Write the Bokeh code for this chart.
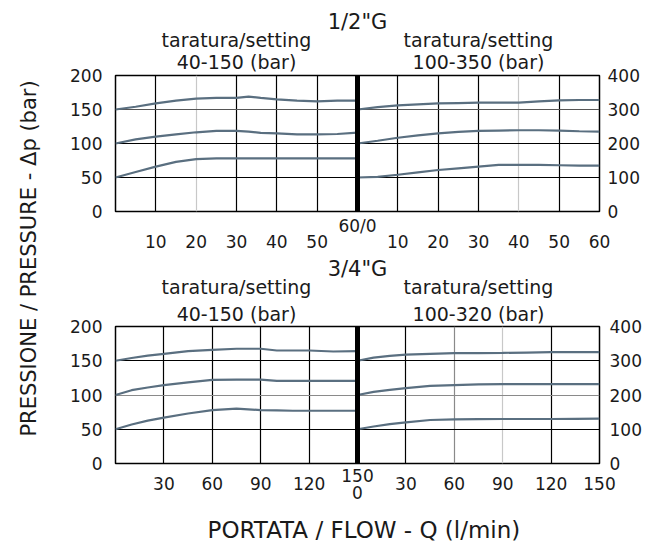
from math import pi
from bokeh.plotting import figure
from bokeh.models import Range1d, LinearAxis, FixedTicker, Grid, Span, Label, Title
from bokeh.layouts import row, column
from bokeh.embed import file_html
from bokeh.resources import INLINE

FONT = "DejaVu Sans"
CURVE = "#5a6f80"
INK = "#1a1a1a"

# ---------------- data: 1/2"G ----------------
g12_left_q = [0, 5, 10, 15, 20, 25, 30, 33, 36, 40, 45, 50, 55, 60]
g12_left_hi = [150, 154, 159, 163, 166, 167, 167, 169, 167, 165, 163, 162, 163, 163]
g12_left_mid = [100, 106, 110, 113.5, 116.5, 118.5, 118.5, 117.5, 115.5, 115, 113.5, 113.5, 114, 116]
g12_left_lo = [50, 58, 66, 73, 77, 78, 78, 78, 78, 78, 78, 78, 78, 78]

g12_right_q = [0, 5, 10, 15, 20, 25, 30, 35, 40, 45, 50, 55, 60]
g12_right_hi = [300, 307, 312, 315, 318, 319, 320, 320, 320, 324, 327, 328, 328]
g12_right_mid = [200, 208, 217, 224, 230, 234, 237, 238, 239, 239, 238, 236, 235]
g12_right_lo = [100, 102, 108, 115, 122, 127, 132, 137, 137, 137, 136, 135, 135]

# ---------------- data: 3/4"G ----------------
g34_left_q = [0, 10, 20, 30, 45, 60, 75, 90, 100, 110, 120, 135, 150]
g34_left_hi = [150, 154, 157.5, 160, 164, 166, 167.5, 167.5, 165, 165, 165, 163.5, 164]
g34_left_mid = [100, 107, 111, 114.5, 118.5, 122, 122.5, 122.5, 120.5, 120.5, 120.5, 120.5, 120.5]
g34_left_lo = [50, 57, 62.5, 67, 73, 78, 80, 78, 77.5, 77, 77, 77, 77]

g34_right_q = [0, 10, 20, 30, 45, 60, 75, 90, 105, 120, 135, 150]
g34_right_hi = [300, 309, 314, 318, 320, 322, 322.5, 323, 324, 325, 325, 325]
g34_right_mid = [200, 209, 215, 220, 226.5, 229, 231, 232, 232, 232, 232, 232]
g34_right_lo = [100, 108, 115, 120, 127, 129, 129.5, 130, 130, 130, 130.5, 131]

# tick labels
g12_left_ticks = [10, 20, 30, 40, 50]
g12_right_ticks = [10, 20, 30, 40, 50, 60]
g12_joint_label = "60/0"
g34_left_ticks = [30, 60, 90, 120]
g34_right_ticks = [30, 60, 90, 120, 150]
g34_joint_label = "150\n0"
left_p_ticks = [0, 50, 100, 150, 200]
right_p_ticks = [0, 100, 200, 300, 400]

sizes = ['1/2"G', '3/4"G']
setting_word = "taratura/setting"
settings_left = ["40-150 (bar)", "40-150 (bar)"]
settings_right = ["100-350 (bar)", "100-320 (bar)"]
x_title = "PORTATA / FLOW - Q (l/min)"
y_title = "PRESSIONE / PRESSURE - \u0394p (bar)"


def style_axis(ax, standoff, size="17px"):
    ax.axis_line_color = None
    ax.major_tick_line_color = None
    ax.minor_tick_line_color = None
    ax.major_tick_in = 0
    ax.major_tick_out = 0
    ax.major_label_standoff = standoff
    ax.major_label_text_font = FONT
    ax.major_label_text_font_size = size
    ax.major_label_text_color = INK
    return ax


def make_panel(W, H, borders, qmax, size_txt, set_l, set_r,
               lq, lhi, lmid, llo, rq, rhi, rmid, rlo,
               lticks, rticks, joint, grid_cfg, st):
    bl, bt, br, bb = borders
    p = figure(width=W, height=H, x_range=Range1d(0, 2 * qmax), y_range=Range1d(0, 200),
               x_axis_type=None, y_axis_type=None,
               output_backend="svg", toolbar_location=None,
               min_border_left=bl, min_border_top=bt,
               min_border_right=br, min_border_bottom=bb)
    p.extra_x_ranges = {"right": Range1d(-qmax, qmax)}
    p.extra_y_ranges = {"right": Range1d(0, 400)}
    p.outline_line_color = "black"
    p.outline_line_width = 1.5
    p.background_fill_color = "white"
    p.border_fill_color = "white"

    # panel headings (as an axis above, one multi-line label per panel)
    hx = [qmax // 2, qmax + qmax // 2]
    ha = LinearAxis(ticker=FixedTicker(ticks=hx),
                    major_label_overrides={hx[0]: setting_word + "\n" + set_l,
                                           hx[1]: setting_word + "\n" + set_r})
    style_axis(ha, st["head"], "19px")
    ha.major_label_text_line_height = st["head_lh"]
    p.add_layout(ha, "above")
    p.add_layout(Title(text=size_txt, align="center", offset=st["size_off"],
                       standoff=st["size"], text_font=FONT, text_font_size="21px",
                       text_font_style="normal", text_color=INK), "above")

    # flow axes below: joint label, then the rest
    ja = LinearAxis(ticker=FixedTicker(ticks=[qmax]), major_label_overrides={qmax: joint})
    style_axis(ja, st["joint"])
    ja.major_label_text_line_height = 0.85
    p.add_layout(ja, "below")
    ticks = list(lticks) + [qmax + t for t in rticks]
    overrides = {qmax + t: str(t) for t in rticks}
    xa = LinearAxis(ticker=FixedTicker(ticks=ticks), major_label_overrides=overrides)
    p.add_layout(style_axis(xa, st["x"]), "below")

    ya = LinearAxis(ticker=FixedTicker(ticks=left_p_ticks))
    p.add_layout(style_axis(ya, st["yl"]), "left")
    yb = LinearAxis(y_range_name="right", ticker=FixedTicker(ticks=right_p_ticks))
    p.add_layout(style_axis(yb, st["yr"]), "right")

    # grids
    for dim, rname, tks, col in grid_cfg:
        kw = {}
        if rname == "right":
            kw = {"x_range_name": "right"} if dim == 0 else {"y_range_name": "right"}
        p.add_layout(Grid(dimension=dim, ticker=FixedTicker(ticks=tks), grid_line_color=col,
                          grid_line_width=1.2, **kw))

    # curves
    for ys in (lhi, lmid, llo):
        p.line(lq, ys, line_color=CURVE, line_width=2.2)
    for ys in (rhi, rmid, rlo):
        p.line(rq, ys, x_range_name="right", y_range_name="right",
               line_color=CURVE, line_width=2.2)

    # divider between the two pressure ranges
    p.add_layout(Span(location=qmax, dimension="height", line_color="black", line_width=5))
    return p


top = make_panel(
    600, 255, (65, 75, 51, 44), 60, sizes[0], settings_left[0], settings_right[0],
    g12_left_q, g12_left_hi, g12_left_mid, g12_left_lo,
    g12_right_q, g12_right_hi, g12_right_mid, g12_right_lo,
    g12_left_ticks, g12_right_ticks, g12_joint_label,
    [(0, "default", [10, 30, 40, 50], "black"),
     (0, "default", [20], "#c8c8c8"),
     (0, "right", [10, 20, 30, 50], "black"),
     (0, "right", [40], "#c8c8c8"),
     (1, "default", [50, 100], "black"),
     (1, "default", [150], "#555555")],
    {"head": 3, "head_lh": 1.0, "size": -17, "size_off": 2.5, "joint": 4, "x": -4,
     "yl": 13, "yr": 8})

bottom = make_panel(
    600, 250, (65, 71, 50, 42), 150, sizes[1], settings_left[1], settings_right[1],
    g34_left_q, g34_left_hi, g34_left_mid, g34_left_lo,
    g34_right_q, g34_right_hi, g34_right_mid, g34_right_lo,
    g34_left_ticks, g34_right_ticks, g34_joint_label,
    [(0, "default", [30, 60, 90, 120], "black"),
     (0, "right", [30, 120], "black"),
     (0, "right", [60], "#8a8a8a"),
     (0, "right", [90], "#c8c8c8"),
     (1, "default", [50, 150], "black"),
     (1, "default", [100], "#8a8a8a")],
    {"head": 2, "head_lh": 1.2, "size": -14, "size_off": 5, "joint": 2, "x": -29,
     "yl": 13, "yr": 10})

# flow axis title strip
xfig = figure(width=600, height=37, x_range=Range1d(0, 600), y_range=Range1d(0, 37),
              x_axis_type=None, y_axis_type=None, output_backend="svg",
              toolbar_location=None, min_border=0)
xfig.outline_line_color = None
xfig.add_layout(Label(x=308, y=13, text=x_title, text_align="center",
                      text_baseline="middle", text_font=FONT,
                      text_font_size="23px", text_color=INK))

side = figure(width=50, height=542, x_range=Range1d(0, 50), y_range=Range1d(0, 542),
              x_axis_type=None, y_axis_type=None, output_backend="svg",
              toolbar_location=None, min_border=0)
side.outline_line_color = None
side.add_layout(Label(x=28.5, y=284, text=y_title, angle=pi / 2,
                      text_align="center", text_baseline="middle", text_font=FONT,
                      text_font_size="21px", text_color=INK))

layout = row(side, column(top, bottom, xfig))
open("out.html", "w").write(file_html(layout, INLINE))
